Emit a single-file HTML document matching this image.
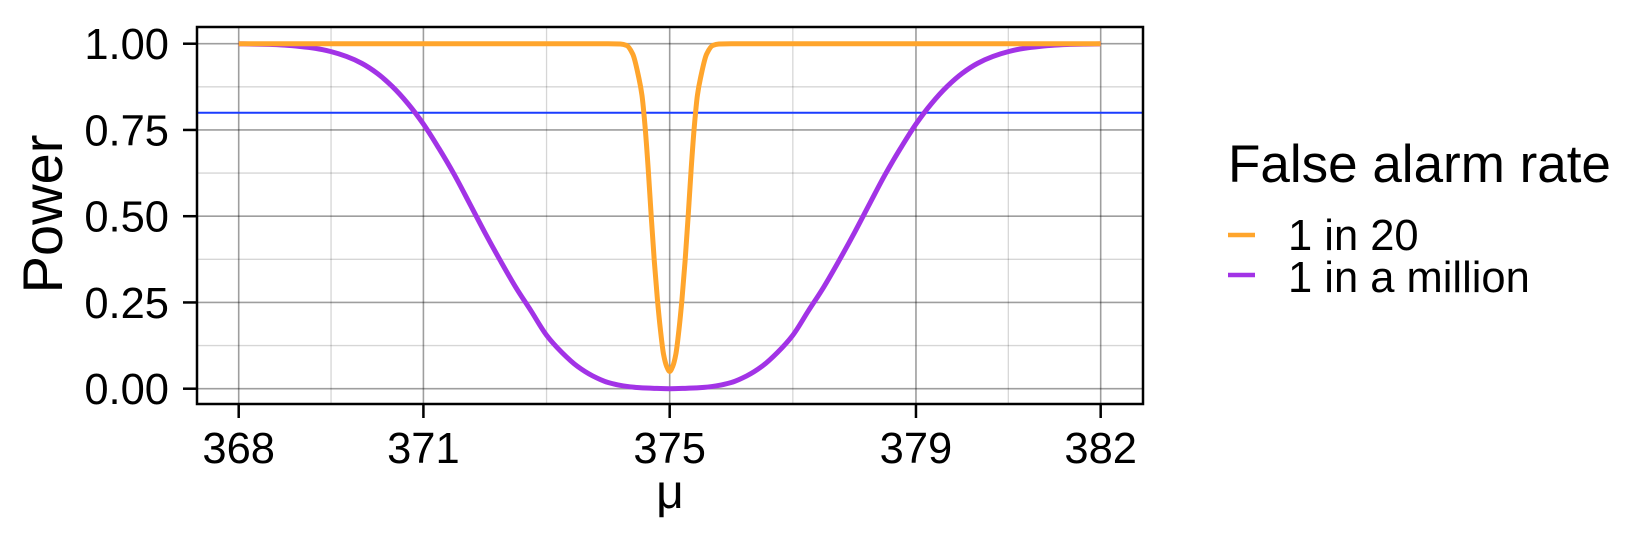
<!DOCTYPE html>
<html><head><meta charset="utf-8"><style>
html,body{margin:0;padding:0;background:#fff;}
svg{display:block;font-family:"Liberation Sans",Arial,sans-serif;}
</style></head><body>
<svg id="chart" width="1638" height="544" viewBox="0 0 1638 544">
<rect x="0" y="0" width="1638" height="544" fill="#fff"/>
<g id="grid"></g>
<g id="series"></g>
<rect x="197" y="27" width="946" height="377" fill="none" stroke="#000" stroke-width="2.5"/>
<g id="axes"></g>
<text x="0" y="0" transform="translate(62,214) rotate(-90)" text-anchor="middle" font-size="56">Power</text>
<text x="670" y="508" text-anchor="middle" font-size="48">μ</text>
<g>
<text x="1228" y="182" font-size="53">False alarm rate</text>
<line x1="1228" x2="1255" y1="235" y2="235" stroke="#FFA52C" stroke-width="4.5"/>
<text x="1288" y="250" font-size="43.5">1 in 20</text>
<line x1="1228" x2="1255" y1="275" y2="275" stroke="#A233E6" stroke-width="4.5"/>
<text x="1288" y="292" font-size="43.5">1 in a million</text>
</g>
</svg>
<script>
const xTicks = [368, 371, 375, 379, 382];
const xMinor = [369.5, 373, 377, 380.5];
const yTicks = [0, 0.25, 0.5, 0.75, 1];
const yTickLabels = ["0.00", "0.25", "0.50", "0.75", "1.00"];
const yMinor = [0.125, 0.375, 0.625, 0.875];
const thresholdPower = 0.8;
const muOrange = [368, 374, 374.2, 374.3, 374.4, 374.5, 374.55, 374.6, 374.65, 374.7, 374.75, 374.8, 374.85, 374.9, 374.95, 375, 375.05, 375.1, 375.15, 375.2, 375.25, 375.3, 375.35, 375.4, 375.45, 375.5, 375.6, 375.7, 375.8, 376, 382];
const powerOrange = [1, 1, 0.999, 0.995, 0.97, 0.90, 0.85, 0.76, 0.64, 0.50, 0.37, 0.26, 0.17, 0.10, 0.065, 0.05, 0.065, 0.10, 0.17, 0.26, 0.37, 0.50, 0.64, 0.76, 0.85, 0.90, 0.97, 0.995, 0.999, 1, 1];
const muPurple = [368, 368.25, 368.5, 368.75, 369, 369.25, 369.5, 369.75, 370, 370.25, 370.5, 370.75, 371, 371.25, 371.5, 371.75, 372, 372.25, 372.5, 372.75, 373, 373.25, 373.5, 373.75, 374, 374.25, 374.5, 374.75, 375, 375.25, 375.5, 375.75, 376, 376.25, 376.5, 376.75, 377, 377.25, 377.5, 377.75, 378, 378.25, 378.5, 378.75, 379, 379.25, 379.5, 379.75, 380, 380.25, 380.5, 380.75, 381, 381.25, 381.5, 381.75, 382];
const powerPurple = [0.9995, 0.9989, 0.998, 0.9958, 0.992, 0.9865, 0.977, 0.963, 0.943, 0.914, 0.875, 0.826, 0.767, 0.697, 0.621, 0.537, 0.452, 0.371, 0.294, 0.225, 0.155, 0.105, 0.065, 0.037, 0.018, 0.008, 0.003, 0.001, 0, 0.001, 0.003, 0.008, 0.018, 0.037, 0.065, 0.105, 0.155, 0.225, 0.294, 0.371, 0.452, 0.537, 0.621, 0.697, 0.767, 0.826, 0.875, 0.914, 0.943, 0.963, 0.977, 0.9865, 0.992, 0.9958, 0.998, 0.9989, 0.9995];

const NS = "http://www.w3.org/2000/svg";
const X0 = 238.7, XU = 61.57, Y0 = 388.7, YU = 345;
function sx(v){ return X0 + (v - 368) * XU; }
function sy(v){ return Y0 - v * YU; }
function mk(tag, attrs, parent){
  const e = document.createElementNS(NS, tag);
  for (const k in attrs) e.setAttribute(k, attrs[k]);
  parent.appendChild(e);
  return e;
}
const grid = document.getElementById('grid');
const axes = document.getElementById('axes');
const series = document.getElementById('series');
xMinor.forEach(v => {
  const l = mk('line', {x1: sx(v), x2: sx(v), y1: 27, y2: 404, stroke: 'rgba(0,0,0,0.16)', 'stroke-width': 1.3}, grid);
  
  
});
yMinor.forEach(v => {
  const l = mk('line', {x1: 197, x2: 1143, y1: sy(v), y2: sy(v), stroke: 'rgba(0,0,0,0.16)', 'stroke-width': 1.3}, grid);
  
  
});
xTicks.forEach(v => {
  const l = mk('line', {x1: sx(v), x2: sx(v), y1: 27, y2: 404, stroke: 'rgba(0,0,0,0.38)', 'stroke-width': 1.6}, grid);
  
  
  const t = mk('line', {x1: sx(v), x2: sx(v), y1: 404, y2: 418, stroke: '#000', 'stroke-width': 2.5}, axes);
  
  
  const tx = mk('text', {x: sx(v), y: 463, 'text-anchor': 'middle', 'font-size': 43.5}, axes);
  tx.textContent = v;
  
  
});
yTicks.forEach((v, i) => {
  const l = mk('line', {x1: 197, x2: 1143, y1: sy(v), y2: sy(v), stroke: 'rgba(0,0,0,0.38)', 'stroke-width': 1.6}, grid);
  
  
  const t = mk('line', {x1: 183, x2: 197, y1: sy(v), y2: sy(v), stroke: '#000', 'stroke-width': 2.5}, axes);
  
  
  const tx = mk('text', {x: 169, y: sy(v) + 15.5, 'text-anchor': 'end', 'font-size': 43.5}, axes);
  tx.textContent = yTickLabels[i];
  
  
});
const hl = mk('line', {x1: 197, x2: 1143, y1: sy(thresholdPower), y2: sy(thresholdPower), stroke: '#1a3cff', 'stroke-width': 2}, series);


function path(xs, ys){
  // monotone cubic (Fritsch-Carlson) in pixel space
  const p = xs.map((x, i) => [sx(x), sy(ys[i])]);
  const n = p.length, dl = [], m = [];
  for (let i = 0; i < n - 1; i++) dl.push((p[i+1][1] - p[i][1]) / (p[i+1][0] - p[i][0]));
  m[0] = dl[0]; m[n-1] = dl[n-2];
  for (let i = 1; i < n - 1; i++) {
    const a = dl[i-1], b = dl[i];
    m[i] = (a * b > 0) ? 2 * a * b / (a + b) : 0;
  }
  let d = 'M' + p[0][0] + ',' + p[0][1];
  for (let i = 0; i < n - 1; i++) {
    const h = (p[i+1][0] - p[i][0]) / 3;
    d += ' C' + (p[i][0] + h) + ',' + (p[i][1] + m[i] * h) + ' ' + (p[i+1][0] - h) + ',' + (p[i+1][1] - m[i+1] * h) + ' ' + p[i+1][0] + ',' + p[i+1][1];
  }
  return d;
}
const pp = mk('path', {d: path(muPurple, powerPurple), fill: 'none', stroke: '#A233E6', 'stroke-width': 5, 'stroke-linejoin': 'round'}, series);


const po = mk('path', {d: path(muOrange, powerOrange), fill: 'none', stroke: '#FFA52C', 'stroke-width': 5, 'stroke-linejoin': 'round'}, series);


</script>
</body></html>
